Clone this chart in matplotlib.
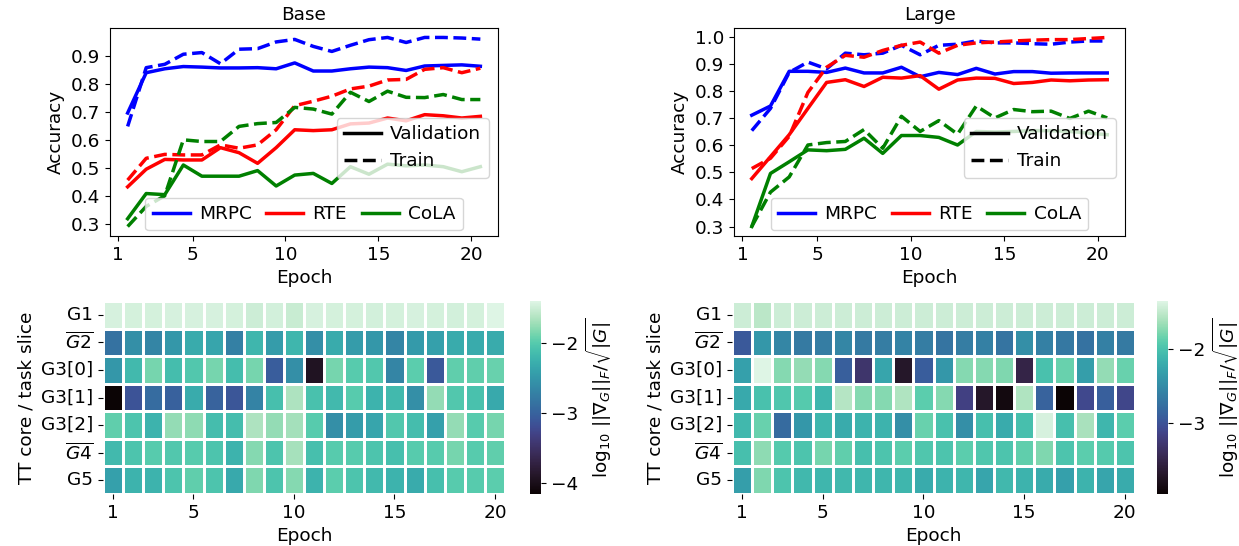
import numpy as np
import matplotlib
matplotlib.use('Agg')
import matplotlib.pyplot as plt
from matplotlib.lines import Line2D
import seaborn as sns

# ---------------- data ----------------
epochs = [1.5, 2.5, 3.5, 4.5, 5.5, 6.5, 7.5, 8.5, 9.5, 10.5,
          11.5, 12.5, 13.5, 14.5, 15.5, 16.5, 17.5, 18.5, 19.5, 20.5]
tasks = ['MRPC', 'RTE', 'CoLA']
task_colors = ['blue', 'red', 'green']

base_val = {
    'MRPC': [0.696, 0.840, 0.854, 0.862, 0.860, 0.857, 0.857, 0.858, 0.854, 0.875,
             0.846, 0.846, 0.854, 0.860, 0.858, 0.848, 0.864, 0.866, 0.868, 0.863],
    'RTE':  [0.432, 0.495, 0.530, 0.528, 0.528, 0.572, 0.554, 0.516, 0.572, 0.636,
             0.633, 0.636, 0.657, 0.660, 0.678, 0.668, 0.690, 0.686, 0.678, 0.684],
    'CoLA': [0.318, 0.408, 0.404, 0.510, 0.470, 0.470, 0.470, 0.490, 0.435, 0.474,
             0.480, 0.444, 0.504, 0.477, 0.513, 0.507, 0.510, 0.504, 0.486, 0.504],
}
base_train = {
    'MRPC': [0.648, 0.858, 0.870, 0.906, 0.912, 0.872, 0.924, 0.926, 0.950, 0.959,
             0.934, 0.916, 0.938, 0.958, 0.966, 0.948, 0.966, 0.966, 0.964, 0.960],
    'RTE':  [0.456, 0.534, 0.548, 0.546, 0.546, 0.582, 0.570, 0.582, 0.636, 0.722,
             0.738, 0.756, 0.782, 0.792, 0.814, 0.816, 0.852, 0.858, 0.840, 0.856],
    'CoLA': [0.290, 0.362, 0.400, 0.600, 0.594, 0.594, 0.648, 0.658, 0.662, 0.716,
             0.710, 0.692, 0.770, 0.737, 0.774, 0.752, 0.751, 0.762, 0.744, 0.744],
}
large_val = {
    'MRPC': [0.711, 0.745, 0.873, 0.873, 0.869, 0.885, 0.867, 0.867, 0.888, 0.853,
             0.869, 0.861, 0.884, 0.863, 0.872, 0.872, 0.866, 0.867, 0.867, 0.867],
    'RTE':  [0.477, 0.558, 0.639, 0.736, 0.832, 0.842, 0.817, 0.851, 0.848, 0.857,
             0.807, 0.841, 0.848, 0.847, 0.828, 0.832, 0.841, 0.838, 0.841, 0.842],
    'CoLA': [0.300, 0.496, 0.539, 0.583, 0.580, 0.585, 0.626, 0.570, 0.636, 0.636,
             0.629, 0.601, 0.651, 0.649, 0.651, 0.654, 0.654, 0.651, 0.645, 0.639],
}
large_train = {
    'MRPC': [0.654, 0.736, 0.869, 0.907, 0.882, 0.940, 0.934, 0.940, 0.969, 0.934,
             0.969, 0.973, 0.985, 0.978, 0.978, 0.975, 0.973, 0.981, 0.985, 0.985],
    'RTE':  [0.514, 0.552, 0.633, 0.795, 0.888, 0.932, 0.925, 0.950, 0.969, 0.981,
             0.940, 0.969, 0.978, 0.981, 0.985, 0.988, 0.990, 0.990, 0.994, 0.998],
    'CoLA': [0.300, 0.427, 0.483, 0.601, 0.610, 0.614, 0.658, 0.589, 0.707, 0.651,
             0.691, 0.641, 0.745, 0.701, 0.732, 0.724, 0.726, 0.699, 0.726, 0.701],
}

row_labels = ['G1', r'$\overline{G2}$', 'G3[0]', 'G3[1]', 'G3[2]', r'$\overline{G4}$', 'G5']
heat_epochs = list(range(1, 21))
heat_xticks = [1, 5, 10, 15, 20]

base_grad = [
    [-1.45, -1.46, -1.46, -1.45, -1.45, -1.45, -1.46, -1.50, -1.47, -1.52,
     -1.45, -1.46, -1.46, -1.47, -1.46, -1.45, -1.46, -1.47, -1.46, -1.40],
    [-2.86, -2.58, -2.67, -2.50, -2.31, -2.36, -2.72, -2.20, -2.45, -2.20,
     -2.58, -2.31, -2.45, -2.50, -2.67, -2.47, -2.42, -2.31, -2.31, -2.31],
    [-2.50, -2.17, -1.87, -2.14, -2.03, -1.87, -2.14, -1.87, -3.05, -2.58,
     -3.93, -1.87, -2.00, -2.03, -2.67, -1.98, -3.08, -1.95, -1.95, -1.92],
    [-4.15, -3.13, -2.91, -3.02, -2.31, -3.00, -3.11, -2.69, -2.11, -1.65,
     -2.09, -2.17, -2.00, -2.23, -2.17, -2.58, -1.76, -2.03, -2.09, -2.33],
    [-1.95, -2.06, -2.23, -1.76, -1.78, -2.14, -2.14, -1.65, -1.76, -1.70,
     -2.00, -2.58, -2.45, -2.36, -2.03, -2.14, -2.42, -1.76, -2.00, -1.87],
    [-2.17, -2.06, -2.00, -2.03, -2.00, -2.06, -2.23, -1.81, -2.06, -1.68,
     -2.11, -2.00, -2.00, -2.06, -2.11, -2.00, -2.00, -1.87, -2.00, -1.95],
    [-2.42, -2.23, -2.23, -2.06, -1.95, -2.06, -2.33, -1.84, -2.06, -1.81,
     -2.23, -1.98, -2.06, -2.17, -2.23, -2.31, -2.11, -2.00, -2.00, -1.98],
]
large_grad = [
    [-1.46, -1.54, -1.46, -1.46, -1.46, -1.46, -1.46, -1.46, -1.46, -1.46,
     -1.46, -1.46, -1.46, -1.46, -1.46, -1.46, -1.46, -1.46, -1.46, -1.46],
    [-2.94, -2.40, -2.55, -2.66, -2.63, -2.55, -2.66, -2.63, -2.58, -2.63,
     -2.71, -2.63, -2.60, -2.71, -2.47, -2.60, -2.68, -2.73, -2.60, -2.66],
    [-2.32, -1.36, -1.75, -1.70, -1.75, -2.89, -3.30, -2.27, -3.69, -2.91,
     -2.40, -1.75, -1.75, -1.77, -3.51, -2.01, -1.85, -2.34, -1.70, -1.85],
    [-2.24, -2.01, -1.96, -1.93, -2.11, -1.57, -1.75, -1.75, -1.59, -1.90,
     -1.75, -3.17, -3.69, -3.87, -1.59, -2.86, -3.95, -3.10, -2.89, -3.12],
    [-2.09, -1.85, -2.79, -2.40, -2.11, -2.21, -2.14, -2.14, -2.47, -1.85,
     -2.01, -2.47, -2.03, -2.21, -2.03, -1.41, -2.03, -1.62, -2.11, -1.90],
    [-2.03, -1.72, -1.93, -1.98, -1.80, -1.88, -2.03, -1.98, -1.90, -1.96,
     -1.98, -1.90, -1.96, -1.98, -1.88, -1.77, -1.98, -1.90, -1.93, -1.98],
    [-2.34, -1.77, -1.98, -2.09, -2.11, -2.09, -2.11, -2.11, -2.11, -2.21,
     -2.14, -2.11, -2.27, -2.09, -2.14, -2.21, -2.32, -2.14, -2.27, -2.21],
]

# ---------------- figure ----------------
FS = 13.3
plt.rcParams['font.size'] = FS
W, H = 1239, 546
fig = plt.figure(figsize=(W / 100, H / 100), dpi=100)


def px_axes(x0, y0, x1, y1):
    return fig.add_axes([x0 / W, 1 - y1 / H, (x1 - x0) / W, (y1 - y0) / H])


def line_panel(ax, val, train, title):
    for t, c in zip(tasks, task_colors):
        ax.plot(epochs, val[t], color=c, lw=2.5, ls='-')
        ax.plot(epochs, train[t], color=c, lw=2.5, ls='--')
    ax.set_title(title, fontsize=FS)
    ax.set_xlabel('Epoch')
    ax.set_ylabel('Accuracy')
    ax.set_xticks([1, 5, 10, 15, 20])
    task_handles = [Line2D([], [], color=c, lw=2.5) for c in task_colors]
    leg1 = ax.legend(task_handles, tasks, loc='lower center', ncol=3, fontsize=FS,
                     handletextpad=0.5, columnspacing=0.8, borderaxespad=0.3)
    ax.add_artist(leg1)
    style_handles = [Line2D([], [], color='black', lw=2.5, ls='-'),
                     Line2D([], [], color='black', lw=2.5, ls='--')]
    ax.legend(style_handles, ['Validation', 'Train'], loc='lower right',
              bbox_to_anchor=(1.0, 0.235), fontsize=FS, handletextpad=0.5)


ax_b = px_axes(110, 28, 498, 236)
line_panel(ax_b, base_val, base_train, 'Base')
ax_b.set_yticks([0.3, 0.4, 0.5, 0.6, 0.7, 0.8, 0.9])

ax_l = px_axes(734, 28, 1125, 236)
line_panel(ax_l, large_val, large_train, 'Large')
ax_l.set_yticks([0.3, 0.4, 0.5, 0.6, 0.7, 0.8, 0.9, 1.0])

cbar_label = r'$\log_{10}\,||\nabla_G||_F/\sqrt{|G|}$'


def heat_panel(ax, cax, data):
    sns.heatmap(np.array(data), ax=ax, cbar_ax=cax, cmap='mako',
                linewidths=1.0, linecolor='white')
    ax.set_xticks([heat_epochs.index(e) + 0.5 for e in heat_xticks])
    ax.set_xticklabels([str(e) for e in heat_xticks], rotation=0)
    ax.set_yticks(np.arange(len(row_labels)) + 0.5)
    ax.set_yticklabels(row_labels, rotation=0)
    ax.set_xlabel('Epoch')
    ax.set_ylabel('TT core / task slice')
    cax.set_ylabel(cbar_label)


hb = px_axes(103, 301, 505, 494)
cb1 = px_axes(530, 301, 541, 494)
heat_panel(hb, cb1, base_grad)
cb1.set_yticks([-2, -3, -4])

hl = px_axes(732, 301, 1135, 494)
cb2 = px_axes(1157, 301, 1168, 494)
heat_panel(hl, cb2, large_grad)
cb2.set_yticks([-2, -3])

fig.savefig('out.png', dpi=100)
